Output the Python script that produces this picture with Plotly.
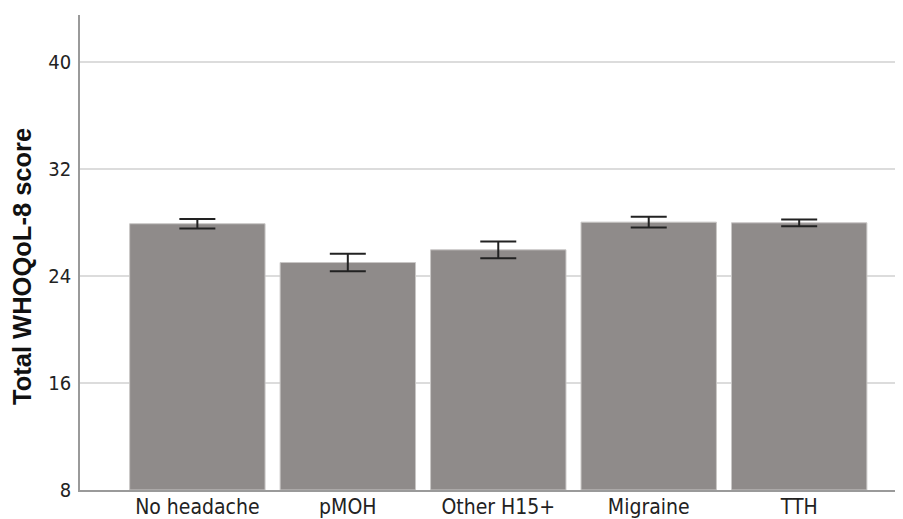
import plotly.graph_objects as go

categories = ["No headache", "pMOH", "Other H15+", "Migraine", "TTH"]
means = [27.9, 25.0, 25.95, 28.02, 27.97]
errors = [0.35, 0.65, 0.63, 0.40, 0.25]
y_ticks = [8, 16, 24, 32, 40]

# page body adds an 8px offset; compensate via figure size / margins
W, H = 895, 511
L, R, T, B = 72, 0, 7, 29
pw, ph = W - L - R, H - T - B

fig = go.Figure()
fig.add_trace(go.Bar(
    x=categories, y=[m - 8 for m in means], base=8,
    marker=dict(color="#8f8b8a", line=dict(color="#c9c7c6", width=1)),
    error_y=dict(type="data", array=errors, color="#222222", thickness=2, width=18),
    width=0.9,
))

fig.update_layout(
    width=W, height=H,
    template="none",
    paper_bgcolor="white", plot_bgcolor="white",
    margin=dict(l=L, r=R, t=T, b=B),
    showlegend=False,
    font=dict(family="DejaVu Sans", color="#222222"),
    xaxis=dict(
        range=[-0.78, 4.69], showgrid=False, automargin=False,
        showline=True, linecolor="#9a9a9a", linewidth=1.5,
        ticks="", ticklabelstandoff=-3,
        tickfont=dict(size=21, family="DejaVu Sans Condensed", color="#222222"),
        fixedrange=True,
    ),
    yaxis=dict(
        range=[8, 43.5], tickvals=y_ticks, automargin=False,
        showgrid=True, gridcolor="#dcdcdc", gridwidth=2,
        showline=True, linecolor="#9a9a9a", linewidth=1.5,
        zeroline=False, ticks="", ticklabelstandoff=3,
        tickfont=dict(size=20, family="DejaVu Sans Condensed", color="#222222"),
    ),
    annotations=[dict(
        text="<b>Total WHOQoL-8 score</b>", textangle=-90,
        xref="paper", yref="paper", x=(14 - L) / pw, y=1 - (259 - T) / ph,
        xanchor="center", yanchor="middle", showarrow=False,
        font=dict(size=25.5, family="Liberation Sans", color="#111111"),
    )],
)

fig.write_html("out.html")
